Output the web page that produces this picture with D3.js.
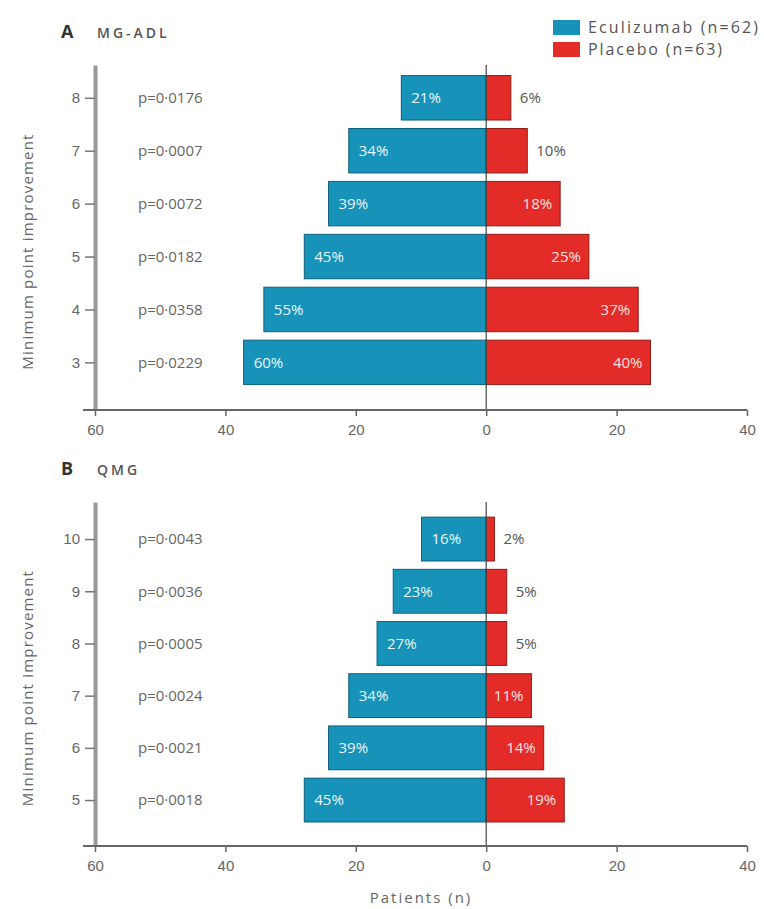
<!DOCTYPE html>
<html>
<head>
<meta charset="utf-8">
<script src="https://cdn.jsdelivr.net/npm/d3@7"></script>
<style>
  html, body { margin: 0; padding: 0; background: #fff; }
  svg { display: block; font-family: "Open Sans", "Noto Sans", sans-serif; }
</style>
</head>
<body>
<svg id="chart" width="764" height="909"></svg>
<script>
// Group sizes
const ecuN = 62;
const pboN = 63;

// Panel A: MG-ADL responders by minimum point improvement
const adlThresholds = [8, 7, 6, 5, 4, 3];
const adlEcuPct = [21, 34, 39, 45, 55, 60];
const adlPboPct = [6, 10, 18, 25, 37, 40];
const adlP = ["p=0·0176", "p=0·0007", "p=0·0072", "p=0·0182", "p=0·0358", "p=0·0229"];

// Panel B: QMG responders by minimum point improvement
const qmgThresholds = [10, 9, 8, 7, 6, 5];
const qmgEcuPct = [16, 23, 27, 34, 39, 45];
const qmgPboPct = [2, 5, 5, 11, 14, 19];
const qmgP = ["p=0·0043", "p=0·0036", "p=0·0005", "p=0·0024", "p=0·0021", "p=0·0018"];

// Shared x axis (patients, eculizumab to the left of zero)
const xTicks = [-60, -40, -20, 0, 20, 40];

const legendLabels = ["Eculizumab (n=62)", "Placebo (n=63)"];
const ecuColor = "#1793ba";
const pboColor = "#e32b27";

const svg = d3.select("#chart");
const x = d3.scaleLinear().domain([-60, 40]).range([95, 747]);

function panel(opts) {
  const { letter, name, thresholds, ecuPct, pboPct, pvals, yDomain, yRange, titleY } = opts;
  const g = svg.append("g");
  const y = d3.scaleLinear().domain(yDomain).range(yRange);
  const step = Math.abs(y(1) - y(0));
  const bh = step * 0.84;

  const rows = thresholds.map((t, i) => ({
    t,
    ecu: ecuPct[i] * ecuN / 100,
    pbo: pboPct[i] * pboN / 100,
    ecuPct: ecuPct[i],
    pboPct: pboPct[i],
    p: pvals[i]
  }));

  // panel title
  const title = g.append("text").attr("x", 61).attr("y", titleY).attr("fill", "#333");
  title.append("tspan").attr("font-size", 18).attr("font-weight", 700).text(letter);
  title.append("tspan").attr("x", 97).attr("font-size", 14).attr("font-weight", 600)
    .attr("letter-spacing", 3).attr("fill", "#555").text(name);

  // eculizumab bars
  g.selectAll("rect.ecu").data(rows).join("rect")
    .attr("class", "ecu")
    .attr("x", d => x(-d.ecu))
    .attr("y", d => y(d.t) - bh / 2)
    .attr("width", d => x(0) - x(-d.ecu))
    .attr("height", bh)
    .attr("fill", ecuColor)
    .attr("stroke", "#0e5f7c").attr("stroke-width", 1);

  // placebo bars
  g.selectAll("rect.pbo").data(rows).join("rect")
    .attr("class", "pbo")
    .attr("x", x(0))
    .attr("y", d => y(d.t) - bh / 2)
    .attr("width", d => x(d.pbo) - x(0))
    .attr("height", bh)
    .attr("fill", pboColor)
    .attr("stroke", "#8f1a16").attr("stroke-width", 1);

  // eculizumab percentages (inside, near left end)
  g.selectAll("text.ecuLab").data(rows).join("text")
    .attr("x", d => x(-d.ecu) + 10)
    .attr("y", d => y(d.t))
    .attr("dy", "0.35em")
    .attr("font-size", 15)
    .attr("fill", "#e8f6fb")
    .text(d => d.ecuPct + "%");

  // placebo percentages (inside when the bar is wide enough)
  g.selectAll("text.pboLab").data(rows).join("text")
    .attr("x", d => d.pbo >= 6.5 ? x(d.pbo) - 8 : x(d.pbo) + 9)
    .attr("text-anchor", d => d.pbo >= 6.5 ? "end" : "start")
    .attr("y", d => y(d.t))
    .attr("dy", "0.35em")
    .attr("font-size", 15)
    .attr("fill", d => d.pbo >= 6.5 ? "#fbe3e2" : "#555")
    .text(d => d.pboPct + "%");

  // p values
  g.selectAll("text.pval").data(rows).join("text")
    .attr("x", 138)
    .attr("y", d => y(d.t))
    .attr("dy", "0.35em")
    .attr("font-size", 15)
    .attr("fill", "#666")
    .text(d => d.p);

  // zero reference line
  g.append("line")
    .attr("x1", x(0)).attr("x2", x(0))
    .attr("y1", yRange[1]).attr("y2", yRange[0])
    .attr("stroke", "#444").attr("stroke-width", 1.2);

  // y axis
  const yAxis = g.append("g").attr("transform", `translate(${x(-60)},0)`)
    .call(d3.axisLeft(y).tickValues(thresholds).tickFormat(d3.format("d"))
      .tickSize(10).tickPadding(5).tickSizeOuter(0));
  yAxis.select(".domain").attr("stroke", "#999").attr("stroke-width", 4);
  yAxis.selectAll(".tick line").attr("stroke", "#777").attr("stroke-width", 1.5);
  yAxis.selectAll(".tick text").attr("font-size", 15).attr("fill", "#666").attr("font-family", null);

  // x axis
  const xAxis = g.append("g").attr("transform", `translate(0,${yRange[0]})`)
    .call(d3.axisBottom(x).tickValues(xTicks).tickFormat(d => Math.abs(d))
      .tickSize(6).tickPadding(8).tickSizeOuter(0));
  xAxis.select(".domain").remove();
  xAxis.insert("line", ":first-child")
    .attr("x1", x(-60) - 12).attr("x2", x(40))
    .attr("stroke", "#666").attr("stroke-width", 2);
  xAxis.selectAll(".tick line").attr("stroke", "#666").attr("stroke-width", 1.5);
  xAxis.selectAll(".tick text").attr("font-size", 15).attr("fill", "#666").attr("font-family", null);

  // y axis title
  const midY = (yRange[0] + yRange[1]) / 2 + 14;
  g.append("text")
    .attr("transform", `translate(33,${midY}) rotate(-90)`)
    .attr("text-anchor", "middle")
    .attr("font-size", 15)
    .attr("letter-spacing", 1.2)
    .attr("fill", "#666")
    .text("Minimum point improvement");

  return g;
}

panel({
  letter: "A", name: "MG-ADL",
  thresholds: adlThresholds, ecuPct: adlEcuPct, pboPct: adlPboPct, pvals: adlP,
  yDomain: [2.1, 8.62], yRange: [410, 65], titleY: 38
});

panel({
  letter: "B", name: "QMG",
  thresholds: qmgThresholds, ecuPct: qmgEcuPct, pboPct: qmgPboPct, pvals: qmgP,
  yDomain: [4.12, 10.71], yRange: [846, 502], titleY: 475
});

// x axis title
svg.append("text")
  .attr("x", 421).attr("y", 903)
  .attr("text-anchor", "middle")
  .attr("font-size", 15)
  .attr("letter-spacing", 2)
  .attr("fill", "#666")
  .text("Patients (n)");

// legend
const legendWidths = [170, 134];
const legend = svg.append("g").attr("transform", "translate(553,20)");
[ecuColor, pboColor].forEach((c, i) => {
  legend.append("rect")
    .attr("x", 0).attr("y", i * 22)
    .attr("width", 27).attr("height", 15)
    .attr("fill", c);
  legend.append("text")
    .attr("x", 35).attr("y", i * 22 + 7.5)
    .attr("dy", "0.35em")
    .attr("font-size", 16)
    .attr("textLength", legendWidths[i])
    .attr("lengthAdjust", "spacing")
    .attr("fill", "#555")
    .text(legendLabels[i]);
});
</script>
</body>
</html>
